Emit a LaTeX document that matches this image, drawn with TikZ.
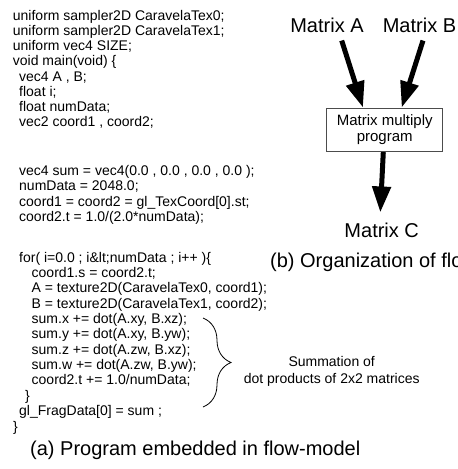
\documentclass[tikz,border=0pt]{standalone}
\usepackage{fontspec}
\setmainfont{Liberation Sans}
\usetikzlibrary{arrows.meta,decorations.pathreplacing}
\tikzset{
  codeline/.style={anchor=base west,inner sep=0pt,font=\fontsize{14}{15}\selectfont},
  bigtext/.style={inner sep=0pt,font=\fontsize{20}{22}\selectfont},
  fatarrow/.style={line width=5pt,-{Triangle[width=18pt,length=26pt]}},
  progbox/.style={draw=black!70,line width=0.9pt,fill=white,minimum width=116pt,minimum height=43.7pt,align=center,inner sep=0pt,font=\fontsize{15}{16}\selectfont},
  bracestyle/.style={decorate,decoration={brace,amplitude=28pt},line width=0.8pt},
  notetext/.style={align=center,inner sep=0pt,font=\fontsize{14}{17}\selectfont}
}
\begin{document}
\begin{tikzpicture}[x=1pt,y=-1pt]
\clip (0,0) rectangle (458,469);
\fill[white] (0,0) rectangle (458,469);
% code listing
\node[codeline] (c1) at (12.7,20) {uniform sampler2D CaravelaTex0;};
\node[codeline] (c2) at (12.7,35.2) {uniform sampler2D CaravelaTex1;};
\node[codeline] (c3) at (12.7,50.5) {uniform vec4 SIZE;};
\node[codeline] (c4) at (12.7,65.7) {void main(void) \{};
\node[codeline] (c5) at (19,81) {vec4 A , B;};
\node[codeline] (c6) at (19,96.2) {float i;};
\node[codeline] (c7) at (19,111.4) {float numData;};
\node[codeline] (c8) at (19,126.7) {vec2 coord1 , coord2;};
\node[codeline] (c9) at (19,175.7) {vec4 sum = vec4(0.0 , 0.0 , 0.0 , 0.0 );};
\node[codeline] (c10) at (19,190.9) {numData = 2048.0;};
\node[codeline] (c11) at (19,206.1) {coord1 = coord2 = gl\_TexCoord[0].st;};
\node[codeline] (c12) at (19,221.3) {coord2.t = 1.0/(2.0*numData);};
\node[codeline] (c13) at (19,262) {for( i=0.0 ; i\&lt;numData ; i++ )\{};
\node[codeline] (c14) at (31.5,277.4) {coord1.s = coord2.t;};
\node[codeline] (c15) at (31.5,292.7) {A = texture2D(CaravelaTex0, coord1);};
\node[codeline] (c16) at (31.5,308.1) {B = texture2D(CaravelaTex1, coord2);};
\node[codeline] (c17) at (31.5,323.4) {sum.x += dot(A.xy, B.xz);};
\node[codeline] (c18) at (31.5,338.8) {sum.y += dot(A.xy, B.yw);};
\node[codeline] (c19) at (31.5,354.2) {sum.z += dot(A.zw, B.xz);};
\node[codeline] (c20) at (31.5,369.5) {sum.w += dot(A.zw, B.yw);};
\node[codeline] (c21) at (31.5,384.9) {coord2.t += 1.0/numData;};
\node[codeline] (c22) at (25,400.3) {\}};
\node[codeline] (c23) at (19,415.6) {gl\_FragData[0] = sum ;};
\node[codeline] (c24) at (13,431) {\}};
\node[bigtext,anchor=base west] (capa) at (30,455) {(a) Program embedded in flow-model};
% brace and note
\coordinate (brtop) at (203,318);
\coordinate (brbot) at (203,407);
\draw[bracestyle] (brtop) -- (brbot);
\node[notetext] (note) at (331.7,371.5) {Summation of\\dot products of 2x2 matrices};
% flow organization
\node[bigtext] (mA) at (327,25) {Matrix A};
\node[bigtext] (mB) at (419.5,25) {Matrix B};
\node[progbox] (box) at (384.7,129.85) {Matrix multiply\\program};
\node[bigtext] (mC) at (381.7,230) {Matrix C};
\node[bigtext,anchor=base west] (capb) at (270,267) {(b) Organization of flo};
\draw[fatarrow] ([xshift=14.7pt,yshift=-8pt]mA.south) -- ([xshift=-21.7pt]box.north);
\draw[fatarrow] ([xshift=3.5pt,yshift=-8pt]mB.south) -- ([xshift=17pt]box.north);
\draw[fatarrow] ([xshift=-1.4pt]box.south) -- ([xshift=-1.4pt,yshift=10pt]mC.north);
\end{tikzpicture}
\end{document}
